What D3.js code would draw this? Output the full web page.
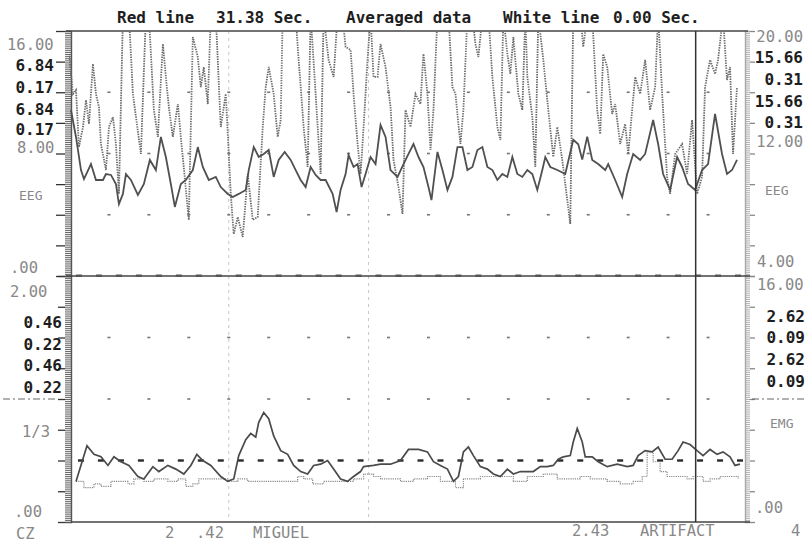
<!DOCTYPE html>
<html><head><meta charset="utf-8">
<script src="https://cdn.jsdelivr.net/npm/d3@7"></script>
<style>body{margin:0;background:#fff}svg{display:block}</style>
</head><body><svg id="c" width="807" height="544"></svg>
<script>
// ---------------- DATA ----------------
const titleParts = ["Red line", "31.38 Sec.", "Averaged data", "White line", "0.00 Sec."];
const cursorT = 31.38;
const markerT = [8, 15];

// Upper panel (EEG), solid trace
const eegSolidT = [0.1,0.35,0.6,0.75,1.1,1.35,1.7,1.85,2.1,2.35,2.5,2.7,2.85,3.1,3.45,3.75,4.05,4.35,4.6,4.85,5.1,5.3,5.6,5.85,6.2,6.45,6.7,7.0,7.35,7.6,7.95,8.2,8.5,8.85,9.0,9.25,9.5,9.75,10.0,10.25,10.5,10.8,11.1,11.35,11.6,11.85,12.1,12.35,12.6,12.85,13.2,13.4,13.6,13.85,14.0,14.25,14.45,14.65,14.85,15.1,15.35,15.6,15.85,16.1,16.45,16.75,17.0,17.25,17.5,17.75,18.0,18.15,18.25,18.45,18.7,18.95,19.2,19.45,19.7,19.95,20.2,20.45,20.7,20.95,21.2,21.45,21.7,21.95,22.2,22.45,22.7,22.95,23.2,23.45,23.7,23.85,24.1,24.45,24.85,25.25,25.5,25.7,25.95,26.2,26.5,26.85,27.0,27.35,27.7,27.95,28.25,28.6,28.85,29.25,29.5,29.75,30.1,30.45,30.7,31.0,31.35,31.7,32.0,32.35,32.7,32.95,33.2,33.45];
const eegSolidV = [10.84,9.08,6.92,6.33,7.31,6.27,6.27,6.66,6.60,6.01,4.70,5.36,6.66,6.27,5.29,6.01,7.58,6.92,9.08,7.77,6.01,4.51,6.01,6.27,6.92,8.42,7.12,6.27,6.47,5.81,5.36,5.16,5.36,5.62,6.92,8.42,7.77,7.97,8.23,6.47,7.58,8.10,7.58,6.92,6.27,5.81,7.12,6.60,6.27,6.27,5.36,4.18,5.62,6.66,7.90,7.12,7.31,5.81,6.66,7.77,7.31,9.86,9.08,6.92,6.47,7.31,7.97,8.62,7.77,7.12,5.81,4.96,6.01,8.10,6.92,5.62,6.47,8.42,8.42,6.92,7.12,8.23,8.42,7.12,6.92,6.27,6.66,6.47,7.77,6.66,6.47,6.92,6.66,5.62,6.92,7.77,7.12,6.92,6.66,8.9,8.6,7.6,9.1,7.58,7.31,6.92,7.31,6.27,5.16,6.66,7.97,7.58,7.97,10.19,8.62,6.66,5.62,7.77,7.12,6.01,5.62,6.92,7.31,10.58,7.97,6.66,6.92,7.58];

// Upper panel (EEG), dotted trace (values above 16 run off the top)
const eegDotT = [0.0,0.2,0.35,0.5,0.7,0.85,1.0,1.2,1.35,1.5,1.6,1.85,2.0,2.2,2.35,2.5,2.7,3.0,3.2,3.4,3.6,3.85,4.0,4.25,4.45,4.7,4.85,5.0,5.2,5.45,5.6,6.0,6.2,6.45,6.6,6.75,6.95,7.1,7.35,7.6,7.85,8.1,8.25,8.45,8.7,8.95,9.2,9.45,9.7,9.85,10.0,10.25,10.45,10.6,10.7,11.35,11.5,11.75,11.95,12.1,12.35,12.6,12.75,13.0,13.25,13.45,13.7,13.85,14.1,14.25,14.45,14.6,14.75,14.95,15.1,15.25,15.45,15.6,15.85,16.1,16.25,16.5,16.7,16.85,17.1,17.35,17.6,17.75,17.95,18.1,18.25,18.45,19.0,19.2,19.35,19.6,19.75,19.95,20.2,20.35,20.5,20.7,21.0,21.2,21.45,21.6,21.75,21.95,22.1,22.25,22.5,22.7,22.85,22.95,23.2,23.35,23.5,23.75,24.0,24.25,24.45,24.7,24.95,25.1,25.25,25.6,25.75,25.95,26.2,26.45,26.6,26.75,26.95,27.2,27.35,27.6,27.85,28.0,28.35,28.6,28.85,29.1,29.35,29.5,29.7,29.95,30.1,30.35,30.7,30.95,31.2,31.45,31.7,31.85,32.1,32.35,32.5,32.75,32.95,33.1,33.25,33.45];
const eegDotV = [14.5,11.89,12.15,8.42,9.73,11.49,9.93,13.85,11.89,11.04,8.62,6.92,9.73,10.38,8.62,5.36,17,17,11.89,9.93,7.97,17,17,10.84,9.08,15.15,13.0,11.04,9.08,11.23,9.08,3.66,15.61,14.3,12.34,13.65,11.23,17,17,9.73,11.89,5.36,2.74,3.85,2.55,6.66,3.66,3.85,9.73,12.34,13.65,11.89,9.08,10.19,17,17,14.11,9.73,7.12,17,11.89,6.66,17,14.11,13.0,17,17,14.96,14.76,11.89,8.62,6.66,9.73,14.11,17,13.0,13.0,15.15,13.65,11.04,7.58,5.81,4.05,10.84,9.73,11.89,11.23,14.5,11.89,8.23,10.84,17,17,12.34,11.89,8.62,10.84,17,17,15.15,14.3,17,17,13.0,9.73,8.88,17,14.5,13.19,15.61,11.89,10.84,17,13.0,10.38,7.12,17,14.11,10.84,7.77,9.73,7.58,4.96,3.4,17,17,14.96,17,17,10.84,9.27,14.5,13.65,10.58,11.23,8.62,9.93,7.97,13.0,11.89,14.11,10.84,12.34,17,11.89,6.47,5.36,7.97,8.62,6.66,10.19,5.36,6.47,12.34,14.11,13.19,14.11,17,12.8,13.65,7.97,12.34];

// Lower panel (EMG), solid trace
const emgSolidT = [0.35,0.9,1.25,1.6,1.95,2.25,2.6,3.0,3.45,3.75,4.2,4.5,4.95,5.35,5.75,6.1,6.4,6.7,7.1,7.6,7.95,8.25,8.5,8.85,9.1,9.35,9.5,9.75,10.0,10.25,10.6,10.95,11.25,11.6,11.95,12.25,12.6,12.95,13.25,13.6,13.95,14.25,14.6,14.75,15.25,15.6,16.1,16.6,17.0,17.5,17.95,18.25,18.6,18.95,19.25,19.5,19.75,20.0,20.25,20.6,20.95,21.25,21.6,21.95,22.25,22.6,22.95,23.25,23.6,23.95,24.25,24.5,24.75,25.1,25.25,25.45,25.7,25.85,26.2,26.5,26.95,27.45,27.95,28.25,28.5,28.85,29.2,29.5,29.85,30.2,30.5,30.75,31.1,31.45,31.75,32.1,32.45,32.75,33.1,33.35,33.6];
const emgSolidV = [0.33,0.62,0.55,0.53,0.46,0.53,0.49,0.46,0.37,0.35,0.45,0.41,0.46,0.43,0.39,0.46,0.55,0.50,0.46,0.37,0.33,0.35,0.54,0.67,0.72,0.69,0.81,0.89,0.84,0.70,0.58,0.55,0.46,0.41,0.39,0.46,0.47,0.50,0.43,0.35,0.33,0.37,0.41,0.45,0.46,0.47,0.47,0.50,0.59,0.59,0.57,0.49,0.46,0.43,0.33,0.37,0.57,0.61,0.54,0.45,0.43,0.39,0.37,0.43,0.39,0.41,0.41,0.41,0.45,0.45,0.46,0.51,0.53,0.54,0.65,0.76,0.65,0.53,0.53,0.49,0.45,0.47,0.45,0.46,0.54,0.58,0.57,0.61,0.51,0.51,0.58,0.65,0.63,0.58,0.54,0.59,0.55,0.57,0.53,0.46,0.47];

// Lower panel (EMG), dotted trace
const emgDotT = [0.35,0.75,1.25,1.6,2.1,2.45,2.95,3.25,3.75,4.25,4.95,5.45,5.85,6.2,6.5,7.25,7.95,8.45,8.95,9.6,10.25,10.95,11.45,11.75,12.2,12.75,13.25,13.75,14.25,14.75,15.25,15.6,16.6,17.25,17.95,18.6,19.1,19.35,19.75,20.6,21.6,22.25,22.95,23.75,24.45,24.95,25.6,26.1,26.95,27.6,28.25,28.7,28.95,29.25,29.6,29.95,30.45,30.95,31.25,31.75,32.1,32.6,33.1,33.5];
const emgDotV = [0.33,0.28,0.31,0.29,0.33,0.33,0.31,0.35,0.33,0.35,0.33,0.35,0.29,0.31,0.35,0.35,0.33,0.35,0.33,0.33,0.33,0.33,0.37,0.35,0.31,0.33,0.33,0.33,0.35,0.39,0.37,0.35,0.33,0.35,0.37,0.33,0.33,0.28,0.35,0.37,0.37,0.33,0.37,0.39,0.35,0.35,0.37,0.35,0.33,0.31,0.33,0.37,0.57,0.49,0.41,0.37,0.37,0.35,0.37,0.33,0.35,0.37,0.37,0.35];

const emgMean = 0.5;
const eegGridRows = [12, 8, 4];
const emgGridRows = [1.5, 1.0];
const gridDotT = d3.range(2, 33, 2);

// Axis label texts
const leftLabels = ["16.00","6.84","0.17","6.84","0.17","8.00","EEG",".00","2.00","0.46","0.22","0.46","0.22","1/3",".00","CZ"];
const rightLabels = ["20.00","15.66","0.31","15.66","0.31","12.00","EEG","4.00","16.00","2.62","0.09","2.62","0.09","EMG",".00"];
const bottomLabels = ["2",".42","MIGUEL","2.43","ARTIFACT","4"];

// ---------------- LAYOUT ----------------
const svg = d3.select("#c");
const X0 = 69, X1 = 748, TOP = 31, MID = 276, BOT = 522;
const x = d3.scaleLinear().domain([0, 34]).range([X0, X1]);
const yU = d3.scaleLinear().domain([0, 16]).range([MID, TOP]);
const yL = d3.scaleLinear().domain([0, 2]).range([BOT, MID]);

const FONT = "'DejaVu Sans Mono', 'Liberation Mono', monospace";
const GRAY = "#888", DARK = "#1e1e1e";

svg.append("rect").attr("width", 807).attr("height", 544).attr("fill", "#fff");

svg.append("defs").append("clipPath").attr("id", "clipU")
  .append("rect").attr("x", X0).attr("y", TOP).attr("width", X1 - X0).attr("height", MID - TOP);

// faint marker verticals
svg.selectAll("line.mk").data(markerT).join("line")
  .attr("x1", d => x(d)).attr("x2", d => x(d)).attr("y1", TOP).attr("y2", BOT)
  .attr("stroke", "#c8c8c8").attr("stroke-width", 1).attr("stroke-dasharray", "3,4");

// grid dots
[[eegGridRows, yU], [emgGridRows, yL]].forEach(([rows, ys]) => {
  rows.forEach(r => {
    svg.append("g").selectAll("rect").data(gridDotT).join("rect")
      .attr("x", d => x(d) - 1.5).attr("y", ys(r) - 0.8).attr("width", 3).attr("height", 1.6)
      .attr("fill", "#777");
  });
});

// hatched axes (dense minor ticks)
function hatch(axisFn, scale, step, xpos, size, color) {
  const dom = scale.domain();
  const g = svg.append("g").attr("transform", `translate(${xpos},0)`)
    .call(axisFn(scale).tickValues(d3.range(dom[0], dom[1] + step / 2, step)).tickSize(size).tickFormat(""));
  g.selectAll("line").attr("stroke", color).attr("stroke-width", 0.9);
  g.select(".domain").attr("stroke", color).attr("stroke-width", 1.4);
}
hatch(d3.axisLeft, yU, 0.125, 71, 6, "#555");
hatch(d3.axisLeft, yL, 0.015625, 71, 6, "#555");
hatch(d3.axisRight, yU, 0.125, 745, 5, "#a8a8a8");
hatch(d3.axisRight, yL, 0.015625, 745, 5, "#a8a8a8");

// major ticks
function major(axisFn, scale, vals, xpos, size, color) {
  const g = svg.append("g").attr("transform", `translate(${xpos},0)`)
    .call(axisFn(scale).tickValues(vals).tickSize(size).tickFormat(""));
  g.select(".domain").remove();
  g.selectAll("line").attr("stroke", color).attr("stroke-width", 1.3);
}
major(d3.axisLeft, yU, d3.range(0, 16.1, 2), 65, 9, "#333");
major(d3.axisLeft, yL, d3.range(0, 2.01, 0.25), 65, 7, "#333");
major(d3.axisRight, yU, d3.range(0, 16.1, 2), 750, 5, "#888");
major(d3.axisRight, yL, d3.range(0, 2.01, 0.25), 750, 5, "#888");

// frame lines
svg.append("line").attr("x1", 66).attr("x2", X1).attr("y1", TOP).attr("y2", TOP).attr("stroke", "#444").attr("stroke-width", 1.6);
svg.append("line").attr("x1", 71).attr("x2", 750).attr("y1", BOT).attr("y2", BOT).attr("stroke", "#444").attr("stroke-width", 1.5);
svg.append("line").attr("x1", 66).attr("x2", 750).attr("y1", MID).attr("y2", MID).attr("stroke", "#444").attr("stroke-width", 1.3);
// separator dashes
svg.append("g").selectAll("rect").data(d3.range(0.5, 34, 1)).join("rect")
  .attr("x", d => x(d) - 3).attr("y", MID - 1.5).attr("width", 6).attr("height", 2.5).attr("fill", "#555");

// EMG mean dashed level
svg.append("g").selectAll("rect").data(d3.range(0.6, 34, 1)).join("rect")
  .attr("x", d => x(d) - 3).attr("y", yL(emgMean) - 1.2).attr("width", 6).attr("height", 2.4).attr("fill", "#2a2a2a");

// margin dash-dot under 0.22 / 0.09
[[3, 58], [752, 806]].forEach(([a, b]) => {
  svg.append("line").attr("x1", a).attr("x2", b).attr("y1", yL(1.0)).attr("y2", yL(1.0))
    .attr("stroke", "#666").attr("stroke-width", 1.2).attr("stroke-dasharray", "7,3,2,3");
});

// traces
const lineU = d3.line().x(d => x(d[0])).y(d => yU(d[1]));
const lineL = d3.line().x(d => x(d[0])).y(d => yL(d[1]));
const zip = (a, b) => a.map((t, i) => [t, b[i]]);

svg.append("path").datum(zip(eegDotT, eegDotV)).attr("d", lineU).attr("clip-path", "url(#clipU)")
  .attr("fill", "none").attr("stroke", "#6a6a6a").attr("stroke-width", 1.8).attr("stroke-dasharray", "1.4,1.1");
svg.append("path").datum(zip(eegSolidT, eegSolidV)).attr("d", lineU).attr("clip-path", "url(#clipU)")
  .attr("fill", "none").attr("stroke", "#505050").attr("stroke-width", 1.8);
svg.append("path").datum(zip(emgDotT, emgDotV)).attr("d", d3.line().x(d => x(d[0])).y(d => yL(d[1])).curve(d3.curveStepAfter))
  .attr("fill", "none").attr("stroke", "#8a8a8a").attr("stroke-width", 1.2).attr("stroke-dasharray", "1.2,1");
svg.append("path").datum(zip(emgSolidT, emgSolidV)).attr("d", lineL)
  .attr("fill", "none").attr("stroke", "#4a4a4a").attr("stroke-width", 1.7);

// cursor
svg.append("line").attr("x1", x(cursorT)).attr("x2", x(cursorT)).attr("y1", TOP).attr("y2", BOT)
  .attr("stroke", "#333").attr("stroke-width", 1.5);

// title
const titleX = [117, 216, 346, 503, 613];
svg.append("g").selectAll("text").data(titleParts).join("text")
  .attr("x", (d, i) => titleX[i]).attr("y", 23)
  .attr("font-family", FONT).attr("font-weight", "bold").attr("font-size", 16).attr("fill", DARK)
  .text(d => d);

// labels
function labels(texts, layout) {
  svg.append("g").selectAll("text").data(texts).join("text")
    .attr("x", (d, i) => layout[i][0]).attr("y", (d, i) => layout[i][1])
    .attr("text-anchor", (d, i) => layout[i][2])
    .attr("font-family", FONT)
    .attr("font-weight", (d, i) => layout[i][3] === "b" ? "bold" : "normal")
    .attr("font-size", (d, i) => layout[i][3] === "b" ? 16 : (layout[i][3] === "s" ? 13 : 15.5))
    .attr("fill", (d, i) => layout[i][3] === "b" ? DARK : GRAY)
    .text(d => d);
}
labels(leftLabels, [
  [7, 50, "start", "g"], [54, 71, "end", "b"], [54, 93, "end", "b"], [54, 115, "end", "b"], [54, 135, "end", "b"],
  [17, 153, "start", "g"], [19, 200, "start", "s"], [10, 273, "start", "g"], [10, 297, "start", "g"],
  [62, 328, "end", "b"], [62, 350, "end", "b"], [62, 371, "end", "b"], [62, 393, "end", "b"],
  [22, 437, "start", "g"], [14, 517, "start", "g"], [16, 539, "start", "g"]
]);
labels(rightLabels, [
  [803, 42, "end", "g"], [803, 63, "end", "b"], [803, 85, "end", "b"], [803, 107, "end", "b"], [803, 128, "end", "b"],
  [803, 147, "end", "g"], [765, 195, "start", "s"], [757, 267, "start", "g"], [757, 290, "start", "g"],
  [805, 322, "end", "b"], [805, 343, "end", "b"], [805, 365, "end", "b"], [805, 387, "end", "b"],
  [770, 428, "start", "s"], [755, 513, "start", "g"]
]);
labels(bottomLabels, [
  [165, 538, "start", "g"], [196, 538, "start", "g"], [253, 538, "start", "g"],
  [572, 536, "start", "g"], [640, 536, "start", "g"], [791, 536, "start", "g"]
]);
</script></body></html>
